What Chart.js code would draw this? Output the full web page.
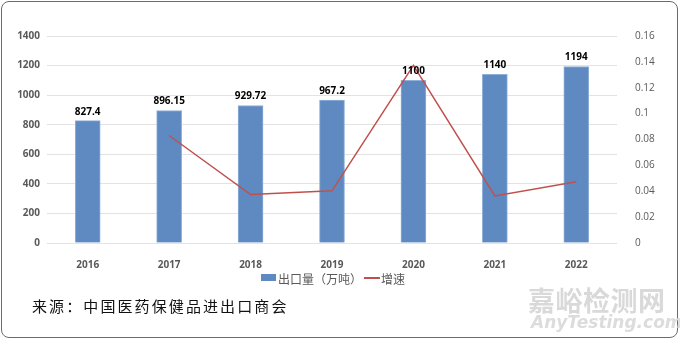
<!DOCTYPE html>
<html>
<head>
<meta charset="utf-8">
<script src="https://cdn.jsdelivr.net/npm/chart.js@4/dist/chart.umd.min.js"></script>
<style>
  html, body { margin: 0; padding: 0; background: #fff; }
  #wrap { position: relative; width: 680px; height: 341px; overflow: hidden; }
  #frame { position: absolute; left: 1px; top: 1px; width: 675px; height: 335px;
           border: 1.5px solid #6b6b6b; border-radius: 8px; }
  canvas { position: absolute; left: 0; top: 0; }
  .legend { position: absolute; top: 270px; font: 12px "Noto Sans CJK SC", sans-serif; color: #595959; }
  .swatch { position: absolute; }
  #source { position: absolute; left: 32px; top: 295px; font: 15px "Noto Sans CJK SC", serif;
            letter-spacing: 2.1px; color: #111; }
  #wm1 { position: absolute; left: 528px; top: 280px; font: bold 27px "Noto Sans CJK SC", sans-serif;
         color: #d9d9d9; letter-spacing: 0.5px; }
  #wm2 { position: absolute; left: 531px; top: 312px; font: italic bold 17px "DejaVu Sans", sans-serif;
         color: #dcdcdc; letter-spacing: 0; }
</style>
</head>
<body>
<div id="wrap">
  <canvas id="chart" width="680" height="341"></canvas>
  <div id="frame"></div>
  <div class="swatch" style="left:261px;top:274px;width:15px;height:7px;background:#5f8ac1"></div>
  <div class="legend" style="left:278px">出口量（万吨）</div>
  <div class="swatch" style="left:364px;top:277px;width:16px;height:2px;background:#c0504d"></div>
  <div class="legend" style="left:381px">增速</div>
  <div id="source">来源：中国医药保健品进出口商会</div>
  <div id="wm1">嘉峪检测网</div>
  <div id="wm2">AnyTesting.com</div>
</div>
<script>
// Data
const years = ['2016', '2017', '2018', '2019', '2020', '2021', '2022'];
const exportVolume = [827.4, 896.15, 929.72, 967.2, 1100, 1140, 1194];
const growthRate = [null, 0.0831, 0.0375, 0.0403, 0.1373, 0.0364, 0.0474];
const leftTicks = [0, 200, 400, 600, 800, 1000, 1200, 1400];
const rightTicks = [0, 0.02, 0.04, 0.06, 0.08, 0.1, 0.12, 0.14, 0.16];

const tickFont = { family: 'Open Sans', size: 10, weight: 'bold' };
const tickColor = '#595959';

// draw value labels above the bars
const barLabels = {
    id: 'barLabels',
    afterDatasetsDraw(chart) {
        const ctx = chart.ctx;
        const meta = chart.getDatasetMeta(1);
        ctx.save();
        ctx.font = 'bold 10px "Open Sans"';
        ctx.fillStyle = '#000';
        ctx.textAlign = 'center';
        ctx.textBaseline = 'middle';
        meta.data.forEach((bar, i) => {
            ctx.fillText(String(exportVolume[i]), bar.x, bar.y - 9);
        });
        ctx.restore();
    }
};

const ctx = document.getElementById('chart').getContext('2d');
new Chart(ctx, {
    data: {
        labels: years,
        datasets: [
            {
                type: 'line',
                label: '增速',
                data: growthRate,
                yAxisID: 'y1',
                borderColor: '#c0504d',
                borderWidth: 1.5,
                pointRadius: 0,
                tension: 0,
                order: 0,
            },
            {
                type: 'bar',
                label: '出口量（万吨）',
                data: exportVolume,
                yAxisID: 'y',
                backgroundColor: '#5f8ac1',
                borderColor: '#8fb0d8',
                borderWidth: 1,
                barThickness: 25,
                order: 1,
            }
        ]
    },
    options: {
        responsive: false,
        animation: false,
        layout: { padding: { top: 36, bottom: 68, left: 0, right: 0 } },
        plugins: { legend: { display: false }, tooltip: { enabled: false } },
        scales: {
            x: {
                grid: { display: false },
                border: { display: false },
                ticks: { font: tickFont, color: tickColor, padding: 8 },
                afterFit(s) { s.height = 30; }
            },
            y: {
                position: 'left',
                min: 0, max: 1400,
                afterBuildTicks(s) { s.ticks = leftTicks.map(v => ({ value: v })); },
                grid: { color: '#e3e3e3', lineWidth: 1, drawTicks: false },
                border: { display: false },
                ticks: { font: tickFont, color: tickColor, padding: 7, callback: v => String(v) },
                afterFit(s) { s.width = 47; }
            },
            y1: {
                position: 'right',
                min: 0, max: 0.16,
                afterBuildTicks(s) { s.ticks = rightTicks.map(v => ({ value: v })); },
                grid: { display: false },
                border: { display: false },
                ticks: {
                    font: { family: 'Open Sans', size: 10 }, color: tickColor, padding: 10,
                    callback: v => String(+v.toFixed(2))
                },
                afterFit(s) { s.width = 63; }
            }
        }
    },
    plugins: [barLabels]
});
</script>
</body>
</html>
